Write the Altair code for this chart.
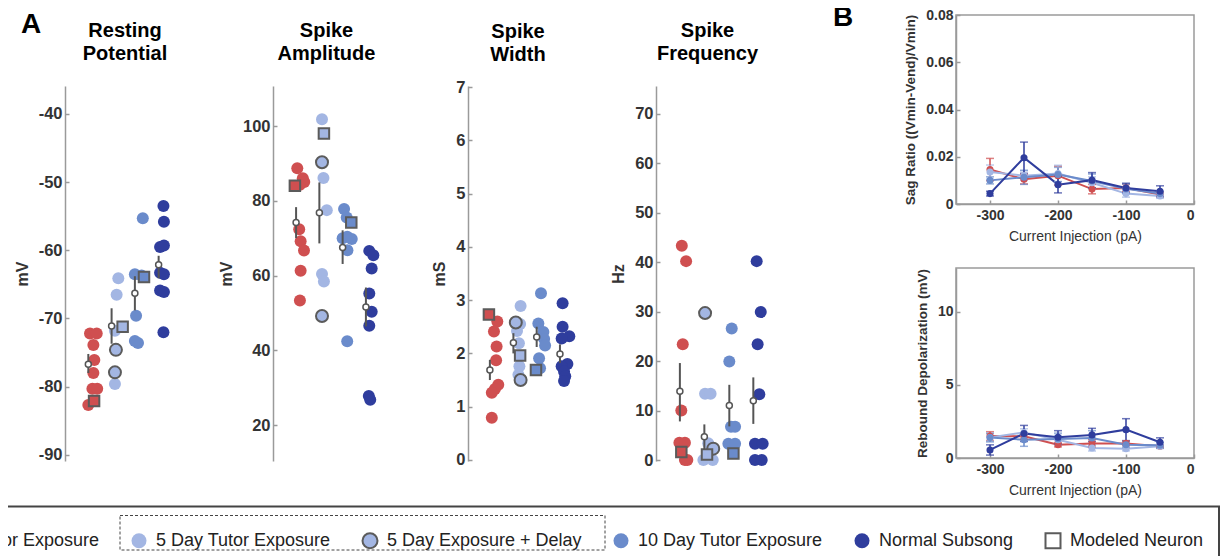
import altair as alt
import pandas as pd

# ---------------- categories / colours ----------------
GROUPS = ["No Tutor Exposure", "5 Day Tutor Exposure", "10 Day Tutor Exposure", "Normal Subsong"]
DELAY = "5 Day Exposure + Delay"
MODEL = "Modeled Neuron"
LEGEND_CATS = [GROUPS[0], GROUPS[1], DELAY, GROUPS[2], GROUPS[3], MODEL]
GROUP_COLORS = ["#cf4f50", "#a3b6e3", "#6a8bcb", "#2f3d9d"]
LEGEND_FILLS = ["#cf4f50", "#a3b6e3", "#a3b6e3", "#6a8bcb", "#2f3d9d", "#ffffff"]
LEGEND_STROKES = ["transparent", "transparent", "#5b5b5b", "transparent", "transparent", "#5b5b5b"]
LEGEND_SHAPES = ["circle", "circle", "circle", "circle", "circle", "square"]

# ---------------- Panel A data (per group: values and x offsets within the group) ----------------
rp_cells = [[-72.2, -72.2, -73.9, -76.1, -78.0, -80.3, -80.3, -82.7],
            [-64.1, -66.5, -71.8, -79.6],
            [-55.3, -63.5, -63.7, -69.6, -73.6, -73.3],
            [-53.5, -55.8, -59.5, -59.3, -63.3, -63.5, -65.9, -66.1, -72.0]]
rp_cells_off = [[0.0, 0.28, 0.14, 0.18, 0.14, 0.10, 0.30, -0.07],
                [0.18, 0.11, 0.04, 0.04],
                [0.2, -0.13, 0.15, -0.08, 0.0, -0.13],
                [0.06, 0.08, -0.08, 0.08, -0.08, 0.08, -0.08, 0.08, 0.06]]
rp_delay = [-74.6, -77.9]
rp_delay_off = [0.08, 0.04]
rp_model = [-82.1, -71.2, -63.9]
rp_model_off = [0.17, 0.36, 0.25]
rp_mean = [-76.7, -71.1, -66.3, -62.1]
rp_lo = [-78.0, -73.7, -68.8, -64.1]
rp_hi = [-75.2, -68.5, -63.8, -60.8]
rp_mean_off = [-0.07, -0.10, -0.13, -0.14]

sa_cells = [[88.7, 86.0, 85.0, 84.3, 72.4, 69.2, 66.7, 61.3, 53.3],
            [101.8, 86.1, 77.5, 60.4, 58.4],
            [77.8, 75.5, 70.4, 70.0, 69.8, 66.8, 42.4],
            [66.6, 65.4, 61.9, 55.2, 50.3, 46.6, 27.8, 26.8]]
sa_cells_off = [[-0.03, 0.2, 0.26, 0.08, 0.05, 0.11, 0.25, 0.11, 0.08],
                [0.0, 0.06, 0.2, 0.0, 0.08],
                [-0.08, 0.03, 0.05, -0.14, 0.24, 0.06, 0.05],
                [-0.03, 0.14, 0.07, -0.03, 0.07, -0.03, -0.05, 0.01]]
sa_delay = [90.3, 49.2]
sa_delay_off = [0.0, 0.0]
sa_model = [84.0, 98.0, 74.2]
sa_model_off = [-0.13, 0.08, 0.22]
sa_mean = [74.2, 76.8, 67.5, 51.6]
sa_lo = [70.0, 68.6, 63.1, 46.4]
sa_hi = [78.3, 84.9, 72.1, 56.8]
sa_mean_off = [-0.08, -0.11, -0.14, -0.17]

sw_cells = [[2.60, 2.41, 2.13, 1.87, 1.41, 1.33, 1.26, 0.79],
            [2.89, 2.55, 2.42, 2.19, 1.76, 1.60],
            [3.13, 2.56, 2.40, 2.27, 2.15, 1.91, 1.72],
            [2.94, 2.50, 2.32, 2.28, 1.80, 1.76, 1.66, 1.57, 1.48]]
sw_cells_off = [[0.18, 0.04, 0.15, 0.13, 0.22, 0.08, -0.05, -0.05],
                [0.15, 0.13, 0.0, 0.08, 0.10, 0.06],
                [0.0, -0.11, 0.10, 0.13, 0.17, -0.08, -0.04],
                [-0.1, -0.1, 0.18, -0.14, 0.10, -0.14, -0.04, 0.01, -0.04]]
sw_delay = [2.58, 1.50]
sw_delay_off = [-0.05, 0.15]
sw_model = [2.73, 1.96, 1.69]
sw_model_off = [-0.17, 0.13, -0.21]
sw_mean = [1.69, 2.20, 2.31, 1.99]
sw_lo = [1.50, 2.00, 2.12, 1.82]
sw_hi = [1.88, 2.38, 2.50, 2.17]
sw_mean_off = [-0.13, -0.15, -0.18, -0.21]

sf_cells = [[43.3, 40.2, 23.4, 10.0, 3.5, 3.5, 0.0, 0.0],
            [13.4, 13.4, 3.4, 0.0, 0.0],
            [26.6, 19.9, 6.7, 6.7, 3.3, 3.3],
            [40.2, 29.9, 23.4, 13.3, 3.3, 3.3, 0.0, 0.0]]
sf_cells_off = [[-0.05, 0.13, -0.01, -0.07, -0.15, 0.08, 0.08, 0.18],
                [-0.08, 0.15, 0.05, -0.15, 0.24],
                [0.03, -0.07, 0.0, 0.17, -0.11, 0.17],
                [0.07, 0.24, 0.11, 0.18, 0.0, 0.32, 0.0, 0.28]]
sf_delay = [29.7, 2.3]
sf_delay_off = [-0.08, 0.26]
sf_model = [1.6, 1.1, 1.3]
sf_model_off = [-0.07, 0.0, 0.1]
sf_mean = [13.9, 4.7, 11.0, 12.0]
sf_lo = [7.8, 2.2, 6.8, 7.3]
sf_hi = [19.6, 7.2, 15.2, 16.7]
sf_mean_off = [-0.13, -0.11, -0.07, -0.07]

# ---------------- Panel B data ----------------
current = [-300, -250, -200, -150, -100, -50]
sag_mean = [[0.0146, 0.0105, 0.0120, 0.0063, 0.0068, 0.0040],
            [0.0135, 0.0120, 0.0129, 0.0090, 0.0044, 0.0034],
            [0.0100, 0.0113, 0.0125, 0.0097, 0.0064, 0.0044],
            [0.0044, 0.0196, 0.0082, 0.0101, 0.0068, 0.0054]]
sag_sem = [[0.0047, 0.0020, 0.0040, 0.0020, 0.0015, 0.0010],
           [0.0030, 0.0020, 0.0035, 0.0025, 0.0015, 0.0010],
           [0.0015, 0.0030, 0.0030, 0.0030, 0.0020, 0.0010],
           [0.0010, 0.0066, 0.0035, 0.0032, 0.0020, 0.0023]]
reb_mean = [[1.50, 1.48, 0.91, 1.00, 1.00, 0.80],
            [1.40, 1.75, 1.25, 0.68, 0.64, 0.80],
            [1.40, 1.25, 1.30, 1.37, 0.91, 0.87],
            [0.55, 1.68, 1.42, 1.58, 1.94, 1.08]]
reb_sem = [[0.30, 0.20, 0.15, 0.25, 0.15, 0.10],
           [0.25, 0.25, 0.30, 0.20, 0.15, 0.15],
           [0.30, 0.45, 0.40, 0.50, 0.20, 0.20],
           [0.35, 0.55, 0.45, 0.45, 0.75, 0.30]]

# ---------------- styling ----------------
FONT = "Liberation Sans"
GRAY = "#5b5b5b"
PLAIN_LABEL = "'' + datum.value"   # hyphen-minus like the original tick labels
INWARD = alt.ExprRef(expr="-4")    # ticks pointing into the plot, as in the original

LEG = alt.Legend(title=" ", titleFontSize=1, titlePadding=9, orient="none",
                 legendX=-157, legendY=491.5,
                 direction="horizontal", symbolSize=225, symbolStrokeWidth=2,
                 labelFont=FONT, labelFontSize=18, labelColor="#222", labelLimit=0,
                 labelOffset=8, columnPadding=27, padding=15,
                 strokeColor="#444")

fill_scale = alt.Scale(domain=LEGEND_CATS, range=LEGEND_FILLS)
shape_scale = alt.Scale(domain=LEGEND_CATS, range=LEGEND_SHAPES)
stroke_scale = alt.Scale(domain=LEGEND_CATS, range=LEGEND_STROKES)


def panel_a(title, cells, cells_off, delay, delay_off, model, model_off,
            mean, lo, hi, mean_off, domain, ticks, ytitle, width, xlo,
            title_offset=22, extra=None):
    rows = []
    for g in range(4):
        for v, o in zip(cells[g], cells_off[g]):
            rows.append(dict(x=g + o, y=v, cat=GROUPS[g]))
    for v, o in zip(delay, delay_off):
        rows.append(dict(x=1 + o, y=v, cat=DELAY))
    pts = pd.DataFrame(rows)
    mdl = pd.DataFrame([dict(x=g + model_off[g], y=model[g], cat=GROUPS[g]) for g in range(3)])
    mn = pd.DataFrame(dict(x=[g + mean_off[g] for g in range(4)], y=mean, lo=lo, hi=hi))

    X = alt.X("x:Q", scale=alt.Scale(domain=[xlo, xlo + width / 24.0], nice=False, zero=False), axis=None)
    yscale = alt.Scale(domain=domain, nice=False, zero=False)
    yaxis = alt.Axis(values=ticks, title=ytitle, titleFontSize=16, titlePadding=8,
                     labelExpr=PLAIN_LABEL, labelFontSize=16.5, labelPadding=7,
                     tickSize=INWARD, grid=False)

    circles = alt.Chart(pts).mark_point(filled=True, size=144, strokeWidth=2, opacity=1).encode(
        x=X, y=alt.Y("y:Q", scale=yscale, axis=yaxis),
        fill=alt.Fill("cat:N", scale=fill_scale, legend=LEG),
        shape=alt.Shape("cat:N", scale=shape_scale, legend=LEG),
        stroke=alt.Stroke("cat:N", scale=stroke_scale, legend=LEG),
    )
    squares = alt.Chart(mdl).mark_point(filled=True, shape="square", size=110, stroke=GRAY,
                                        strokeWidth=2, opacity=1).encode(
        x=X, y=alt.Y("y:Q", scale=yscale, axis=yaxis),
        fill=alt.Fill("cat:N", scale=fill_scale, legend=LEG),
    )
    bars = alt.Chart(mn).mark_rule(color="#555", strokeWidth=2).encode(
        x=X, y=alt.Y("lo:Q", scale=yscale, axis=yaxis), y2="hi:Q")
    means = alt.Chart(mn).mark_point(shape="circle", size=36, filled=True, fill="white",
                                     stroke="#555", strokeWidth=1.5, opacity=1).encode(
        x=X, y=alt.Y("y:Q", scale=yscale, axis=yaxis))
    layers = [circles, squares, bars, means]
    if extra is not None:
        layers.append(extra)
    return alt.layer(*layers).properties(
        width=width, height=375,
        title=alt.Title(title, fontSize=20, font=FONT, fontWeight="bold", color="black",
                        lineHeight=23, offset=title_offset, anchor="middle"))


# dashed frame around the two 5-day legend entries (decoration only)
dash_box = alt.Chart(pd.DataFrame({"k": [0]})).mark_rect(
    fill="transparent", stroke="#444", strokeWidth=1, strokeDash=[3, 2]).encode(
    x=alt.value(55), x2=alt.value(540), y=alt.value(429.5), y2=alt.value(464))

A1 = panel_a(["Resting", "Potential"], rp_cells, rp_cells_off, rp_delay, rp_delay_off, rp_model,
             rp_model_off, rp_mean, rp_lo, rp_hi, rp_mean_off, [-90.9, -35.9],
             [-90, -80, -70, -60, -50, -40], "mV", 120, -25 / 24.0, extra=dash_box)
A2 = panel_a(["Spike", "Amplitude"], sa_cells, sa_cells_off, sa_delay, sa_delay_off, sa_model,
             sa_model_off, sa_mean, sa_lo, sa_hi, sa_mean_off, [10.4, 110.7],
             [20, 40, 60, 80, 100], "mV", 107, -25 / 24.0)
A3 = panel_a(["Spike", "Width"], sw_cells, sw_cells_off, sw_delay, sw_delay_off, sw_model,
             sw_model_off, sw_mean, sw_lo, sw_hi, sw_mean_off, [-0.02, 7.02],
             [0, 1, 2, 3, 4, 5, 6, 7], "mS", 100, -25 / 24.0, title_offset=14)
A4 = panel_a(["Spike", "Frequency"], sf_cells, sf_cells_off, sf_delay, sf_delay_off, sf_model,
             sf_model_off, sf_mean, sf_lo, sf_hi, sf_mean_off, [-0.2, 75.6],
             [0, 10, 20, 30, 40, 50, 60, 70], "Hz", 103, -27 / 24.0)

spacer = alt.Chart(pd.DataFrame({"t": ["A"]})).mark_text(
    font=FONT, fontSize=28, fontWeight="bold", color="black", align="left", baseline="alphabetic").encode(
    x=alt.value(-44), y=alt.value(18), text="t:N").properties(width=120, height=61)


def panel_b(means, sems, domain, ticks, ytitle, height, label_expr, letter=None):
    rows = []
    for g in range(4):
        for c, m, s in zip(current, means[g], sems[g]):
            rows.append(dict(x=c, group=GROUPS[g], v=m, lo=m - s, hi=m + s))
    df = pd.DataFrame(rows)
    X = alt.X("x:Q", scale=alt.Scale(domain=[-350, 0], nice=False, zero=False),
              axis=alt.Axis(values=[-300, -200, -100, 0], title="Current Injection (pA)",
                            labelExpr=PLAIN_LABEL,
                            titleFontWeight="normal", titleFontSize=14,
                            titlePadding=7, labelFontSize=14,
                            labelPadding=8, tickSize=INWARD, grid=False))
    yscale = alt.Scale(domain=domain, nice=False, zero=False)
    yaxis = alt.Axis(values=ticks, title=ytitle, labelExpr=label_expr,
                     titleFontSize=13.5, titlePadding=8, labelFontSize=14,
                     labelPadding=7, tickSize=INWARD, grid=False)
    C = alt.Color("group:N", scale=alt.Scale(domain=GROUPS, range=GROUP_COLORS), legend=None)
    base = alt.Chart(df)
    line = base.mark_line(strokeWidth=2).encode(x=X, y=alt.Y("v:Q", scale=yscale, axis=yaxis), color=C)
    err = base.mark_errorbar(ticks=True, size=8, thickness=1.5).encode(
        x=X, y=alt.Y("lo:Q", scale=yscale, axis=yaxis, title=ytitle), y2="hi:Q", color=C)
    pts = base.mark_point(filled=True, size=50, opacity=1).encode(
        x=X, y=alt.Y("v:Q", scale=yscale, axis=yaxis), color=C)
    layers = [line, err, pts]
    if letter is not None:
        lab = alt.Chart(pd.DataFrame({"t": [letter]})).mark_text(
            font=FONT, fontSize=28, fontWeight="bold", color="black", align="left",
            baseline="alphabetic").encode(x=alt.value(-123), y=alt.value(11), text="t:N")
        layers.append(lab)
    return alt.layer(*layers).properties(
        width=238, height=height, view=alt.ViewBackground(stroke="#9a9a9a", strokeWidth=1.5))


B1 = panel_b(sag_mean, sag_sem, [0, 0.08], [0, 0.02, 0.04, 0.06, 0.08],
             "Sag Ratio ((Vmin-Vend)/Vmin)", 189,
             "datum.value == 0 ? '0' : format(datum.value, '.2f')", letter="B")
B2 = panel_b(reb_mean, reb_sem, [0, 13], [0, 5, 10], "Rebound Depolarization (mV)", 190,
             PLAIN_LABEL)

A_row = alt.hconcat(A1, A2, A3, A4, spacing=88, bounds="flush")
A_group = alt.vconcat(spacer, A_row, spacing=10, bounds="flush")
B_group = alt.vconcat(B1, B2, spacing=64, bounds="flush")

chart = alt.hconcat(A_group, B_group, spacing=891, bounds="flush").properties(
    padding={"left": -101, "top": -5, "right": 0, "bottom": -13}
).configure_view(stroke=None).configure_axis(
    labelFont=FONT, labelFontWeight="bold", labelColor="#333",
    titleFont=FONT, titleFontWeight="bold", titleColor="#333",
    domainColor="#9a9a9a", domainWidth=1.5, tickColor="#9a9a9a", tickWidth=1.5
).configure_legend(strokeWidth=2)

chart.save("out.html", embed_options={"renderer": "svg", "actions": False})
